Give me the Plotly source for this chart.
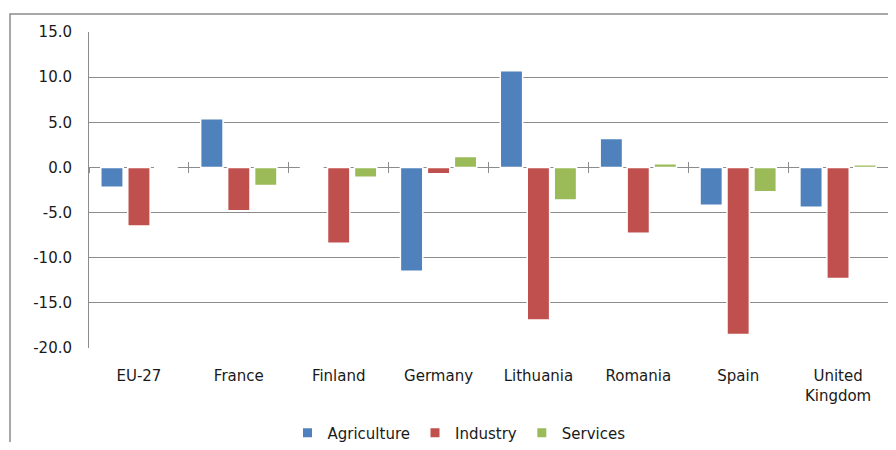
import plotly.graph_objects as go

categories = ["EU-27", "France", "Finland", "Germany", "Lithuania", "Romania", "Spain", "United<br>Kingdom"]
agriculture = [-2.2, 5.4, -0.1, -11.5, 10.7, 3.2, -4.2, -4.4]
industry = [-6.5, -4.8, -8.4, -0.7, -16.9, -7.3, -18.5, -12.3]
services = [-0.1, -2.0, -1.1, 1.2, -3.6, 0.4, -2.7, 0.3]
series_names = ["Agriculture", "Industry", "Services"]
colors = ["#4F81BD", "#C0504D", "#9BBB59"]
y_ticks = [15, 10, 5, 0, -5, -10, -15, -20]
y_ticktext = [f"{v:.1f}" for v in y_ticks]
grid_ticks = [10, 5, -5, -10, -15]

FONT = "DejaVu Sans"
GRAY = "#8c8c8c"
TXT = "#1a1a1a"

# page body has an 8px margin on every side: size the figure so the page fits the window
W, H = 880, 434
L, T = 81, 24
PW, PH = 799, 316

fig = go.Figure()
for name, vals, col in zip(series_names, [agriculture, industry, services], colors):
    fig.add_trace(go.Bar(
        x=categories, y=vals, name=name, showlegend=False,
        marker=dict(color=col, line=dict(color="white", width=1.5)),
    ))
for name, col in zip(series_names, colors):
    fig.add_trace(go.Scatter(
        x=[None], y=[None], mode="markers", name=name,
        marker=dict(symbol="square", size=9, color=col),
    ))
fig.add_trace(go.Scatter(x=[None], y=[None], xaxis="x2", yaxis="y", showlegend=False, hoverinfo="skip"))
fig.add_trace(go.Scatter(x=[None], y=[None], xaxis="x3", yaxis="y", showlegend=False, hoverinfo="skip"))
fig.add_trace(go.Scatter(x=[None], y=[None], xaxis="x", yaxis="y2", showlegend=False, hoverinfo="skip"))

n = len(categories)
boundaries = [i - 0.5 for i in range(n + 1)]
zero_pos = (0 - y_ticks[-1]) / (y_ticks[0] - y_ticks[-1])

fig.update_layout(
    width=W, height=H, autosize=False,
    margin=dict(l=L, r=W - L - PW, t=T, b=H - T - PH, pad=0),
    paper_bgcolor="white", plot_bgcolor="white",
    barmode="group", bargap=0.19, bargroupgap=0.17,
    font=dict(family=FONT, size=15, color=TXT),
    xaxis=dict(
        type="category", showgrid=False, showline=False, zeroline=False,
        ticks="", ticklabelstandoff=17,
        tickfont=dict(family=FONT, size=15, color=TXT),
    ),
    xaxis2=dict(
        overlaying="x", anchor="free", position=zero_pos, range=[-0.5, n - 0.5],
        tickmode="array", tickvals=boundaries, showticklabels=False,
        ticks="outside", ticklen=5, tickwidth=1, tickcolor=GRAY,
        showgrid=False, zeroline=False, showline=False,
    ),
    xaxis3=dict(
        overlaying="x", anchor="free", position=zero_pos, range=[-0.5, n - 0.5],
        tickmode="array", tickvals=boundaries, showticklabels=False,
        ticks="inside", ticklen=5, tickwidth=1, tickcolor=GRAY,
        showgrid=False, zeroline=False, showline=False,
    ),
    yaxis=dict(
        range=[y_ticks[-1], y_ticks[0]], tickmode="array", tickvals=y_ticks, ticktext=y_ticktext,
        showgrid=False, zeroline=True, zerolinecolor=GRAY, zerolinewidth=1,
        showline=True, linecolor=GRAY, linewidth=1, ticks="", ticklabelstandoff=13,
        tickfont=dict(family=FONT, size=15, color=TXT),
    ),
    yaxis2=dict(
        overlaying="y", range=[y_ticks[-1], y_ticks[0]], tickmode="array", tickvals=grid_ticks,
        showticklabels=False, showgrid=True, gridcolor=GRAY, gridwidth=1,
        zeroline=False, showline=False, ticks="",
    ),
    legend=dict(
        orientation="h", xref="container", x=(459 - 8) / W, xanchor="center",
        yref="container", y=1 - (433 - 8) / H, yanchor="middle",
        font=dict(family=FONT, size=15, color=TXT),
        itemwidth=30, bgcolor="rgba(0,0,0,0)",
    ),
    shapes=[dict(
        type="rect", xref="paper", yref="paper",
        x0=(2 - L) / PW, x1=1.05, y0=-0.5, y1=(T + PH - 6) / PH,
        line=dict(color=GRAY, width=1.5), fillcolor="rgba(0,0,0,0)", layer="below",
    )],
)

fig.write_html("out.html")
